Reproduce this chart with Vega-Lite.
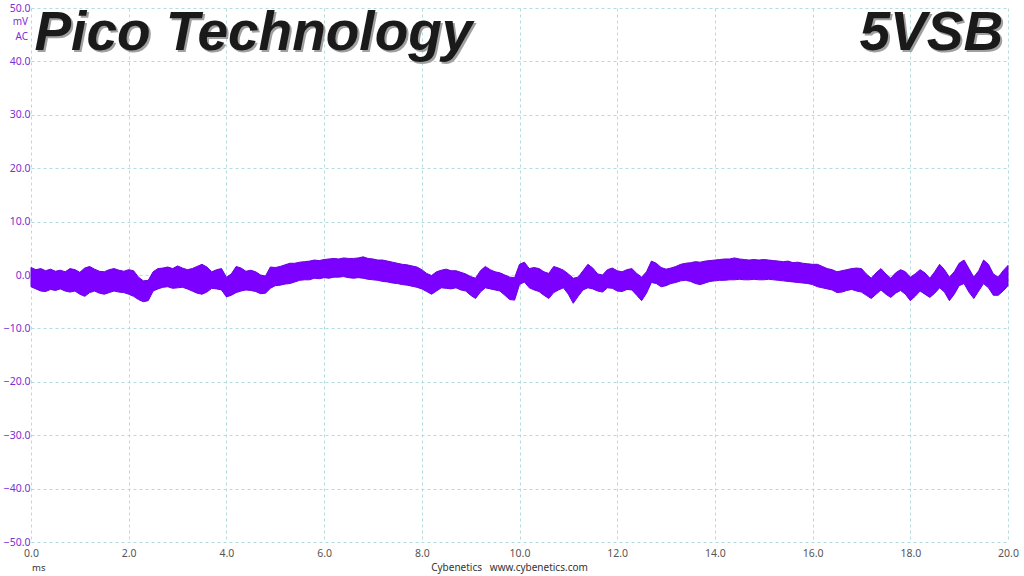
{
  "$schema": "https://vega.github.io/schema/vega-lite/v6.json",
  "width": 977,
  "height": 534,
  "autosize": {"type": "none"},
  "padding": {"left": 31, "top": 8, "right": 16, "bottom": 34},
  "background": "white",
  "config": {
    "view": {"stroke": null},
    "font": "Noto Sans"
  },
  "datasets": {
    "one": [{"k": 1}],
    "sig": [
      {"t":0.0,"hi":1.4,"lo":-2.2},{"t":0.1,"hi":1.0,"lo":-2.6},{"t":0.2,"hi":1.2,"lo":-3.0},{"t":0.3,"hi":0.8,"lo":-3.1},{"t":0.4,"hi":1.1,"lo":-2.7},
      {"t":0.5,"hi":0.7,"lo":-2.9},{"t":0.6,"hi":0.9,"lo":-2.6},{"t":0.7,"hi":0.6,"lo":-3.0},{"t":0.8,"hi":1.2,"lo":-3.2},{"t":0.9,"hi":1.0,"lo":-3.0},
      {"t":1.0,"hi":0.5,"lo":-3.6},{"t":1.1,"hi":1.3,"lo":-4.0},{"t":1.2,"hi":1.6,"lo":-3.3},{"t":1.3,"hi":1.1,"lo":-3.0},{"t":1.4,"hi":0.7,"lo":-3.4},
      {"t":1.5,"hi":0.6,"lo":-3.6},{"t":1.6,"hi":1.0,"lo":-3.3},{"t":1.7,"hi":1.2,"lo":-3.0},{"t":1.8,"hi":0.9,"lo":-3.2},{"t":1.9,"hi":0.7,"lo":-3.3},
      {"t":2.0,"hi":1.0,"lo":-3.6},{"t":2.1,"hi":0.8,"lo":-4.0},{"t":2.2,"hi":-0.4,"lo":-4.6},{"t":2.3,"hi":-1.1,"lo":-5.0},{"t":2.4,"hi":-1.0,"lo":-4.8},
      {"t":2.5,"hi":0.6,"lo":-3.0},{"t":2.6,"hi":1.2,"lo":-2.6},{"t":2.7,"hi":1.3,"lo":-2.3},{"t":2.8,"hi":1.5,"lo":-2.2},{"t":2.9,"hi":1.2,"lo":-2.5},
      {"t":3.0,"hi":1.7,"lo":-2.4},{"t":3.1,"hi":1.3,"lo":-2.3},{"t":3.2,"hi":1.0,"lo":-2.6},{"t":3.3,"hi":1.2,"lo":-3.0},{"t":3.4,"hi":1.6,"lo":-3.4},
      {"t":3.5,"hi":2.0,"lo":-3.6},{"t":3.6,"hi":1.5,"lo":-3.2},{"t":3.7,"hi":0.6,"lo":-2.5},{"t":3.8,"hi":1.0,"lo":-2.6},{"t":3.9,"hi":1.2,"lo":-2.8},
      {"t":4.0,"hi":-0.4,"lo":-4.1},{"t":4.1,"hi":0.2,"lo":-3.8},{"t":4.2,"hi":1.6,"lo":-3.3},{"t":4.3,"hi":1.3,"lo":-3.0},{"t":4.4,"hi":0.7,"lo":-2.8},
      {"t":4.5,"hi":0.9,"lo":-2.9},{"t":4.6,"hi":0.6,"lo":-3.1},{"t":4.7,"hi":0.0,"lo":-3.5},{"t":4.8,"hi":-0.2,"lo":-3.4},{"t":4.9,"hi":1.5,"lo":-2.5},
      {"t":5.0,"hi":1.4,"lo":-2.0},{"t":5.1,"hi":1.6,"lo":-1.9},{"t":5.2,"hi":1.9,"lo":-1.7},{"t":5.3,"hi":2.2,"lo":-1.6},{"t":5.4,"hi":2.2,"lo":-1.3},
      {"t":5.5,"hi":2.4,"lo":-1.0},{"t":5.6,"hi":2.5,"lo":-0.9},{"t":5.7,"hi":2.6,"lo":-0.9},{"t":5.8,"hi":2.8,"lo":-0.6},{"t":5.9,"hi":2.7,"lo":-0.7},
      {"t":6.0,"hi":2.9,"lo":-0.5},{"t":6.1,"hi":3.0,"lo":-0.6},{"t":6.2,"hi":3.1,"lo":-0.4},{"t":6.3,"hi":3.0,"lo":-0.4},{"t":6.4,"hi":3.2,"lo":-0.3},
      {"t":6.5,"hi":3.1,"lo":-0.5},{"t":6.6,"hi":3.1,"lo":-0.6},{"t":6.7,"hi":3.2,"lo":-0.5},{"t":6.8,"hi":3.4,"lo":-0.6},{"t":6.9,"hi":3.1,"lo":-0.8},
      {"t":7.0,"hi":3.0,"lo":-0.9},{"t":7.1,"hi":2.8,"lo":-1.0},{"t":7.2,"hi":2.8,"lo":-1.2},{"t":7.3,"hi":2.6,"lo":-1.3},{"t":7.4,"hi":2.4,"lo":-1.5},
      {"t":7.5,"hi":2.2,"lo":-1.6},{"t":7.6,"hi":2.0,"lo":-1.8},{"t":7.7,"hi":1.9,"lo":-1.9},{"t":7.8,"hi":1.7,"lo":-2.1},{"t":7.9,"hi":1.5,"lo":-2.3},
      {"t":8.0,"hi":1.0,"lo":-2.6},{"t":8.1,"hi":0.3,"lo":-3.1},{"t":8.2,"hi":-0.1,"lo":-3.6},{"t":8.3,"hi":0.6,"lo":-3.0},{"t":8.4,"hi":0.9,"lo":-2.4},
      {"t":8.5,"hi":1.1,"lo":-2.5},{"t":8.6,"hi":0.8,"lo":-2.6},{"t":8.7,"hi":0.8,"lo":-2.4},{"t":8.8,"hi":0.5,"lo":-2.8},{"t":8.9,"hi":0.2,"lo":-3.0},
      {"t":9.0,"hi":-0.3,"lo":-3.8},{"t":9.1,"hi":-0.6,"lo":-4.4},{"t":9.2,"hi":0.8,"lo":-3.2},{"t":9.3,"hi":1.6,"lo":-2.4},{"t":9.4,"hi":1.0,"lo":-2.6},
      {"t":9.5,"hi":0.6,"lo":-2.8},{"t":9.6,"hi":0.4,"lo":-3.0},{"t":9.7,"hi":0.0,"lo":-3.8},{"t":9.8,"hi":-0.4,"lo":-4.6},{"t":9.9,"hi":-0.5,"lo":-4.7},
      {"t":10.0,"hi":2.0,"lo":-1.8},{"t":10.1,"hi":2.4,"lo":-1.3},{"t":10.2,"hi":1.2,"lo":-2.4},{"t":10.3,"hi":1.4,"lo":-2.8},{"t":10.4,"hi":1.2,"lo":-3.1},
      {"t":10.5,"hi":0.6,"lo":-3.8},{"t":10.6,"hi":0.3,"lo":-4.4},{"t":10.7,"hi":1.6,"lo":-3.3},{"t":10.8,"hi":1.3,"lo":-2.8},{"t":10.9,"hi":0.9,"lo":-2.4},
      {"t":11.0,"hi":0.2,"lo":-3.6},{"t":11.1,"hi":-0.6,"lo":-5.3},{"t":11.2,"hi":-0.4,"lo":-4.0},{"t":11.3,"hi":0.8,"lo":-2.8},{"t":11.4,"hi":2.0,"lo":-2.4},
      {"t":11.5,"hi":1.3,"lo":-2.6},{"t":11.6,"hi":0.2,"lo":-3.0},{"t":11.7,"hi":0.0,"lo":-3.2},{"t":11.8,"hi":1.0,"lo":-2.4},{"t":11.9,"hi":1.3,"lo":-2.5},
      {"t":12.0,"hi":0.8,"lo":-3.0},{"t":12.1,"hi":0.6,"lo":-3.1},{"t":12.2,"hi":1.0,"lo":-2.7},{"t":12.3,"hi":1.2,"lo":-2.8},{"t":12.4,"hi":0.3,"lo":-3.8},
      {"t":12.5,"hi":-0.4,"lo":-4.8},{"t":12.6,"hi":0.6,"lo":-3.4},{"t":12.7,"hi":2.6,"lo":-1.4},{"t":12.8,"hi":2.2,"lo":-1.6},{"t":12.9,"hi":1.4,"lo":-2.2},
      {"t":13.0,"hi":1.1,"lo":-2.0},{"t":13.1,"hi":1.3,"lo":-1.6},{"t":13.2,"hi":1.6,"lo":-1.4},{"t":13.3,"hi":2.0,"lo":-1.1},{"t":13.4,"hi":2.2,"lo":-1.0},
      {"t":13.5,"hi":2.3,"lo":-1.2},{"t":13.6,"hi":2.5,"lo":-1.6},{"t":13.7,"hi":2.4,"lo":-1.8},{"t":13.8,"hi":2.6,"lo":-1.5},{"t":13.9,"hi":2.7,"lo":-1.2},
      {"t":14.0,"hi":2.8,"lo":-1.1},{"t":14.1,"hi":2.9,"lo":-1.0},{"t":14.2,"hi":3.0,"lo":-1.0},{"t":14.3,"hi":3.0,"lo":-0.9},{"t":14.4,"hi":3.2,"lo":-0.9},
      {"t":14.5,"hi":3.0,"lo":-0.8},{"t":14.6,"hi":2.9,"lo":-0.9},{"t":14.7,"hi":2.8,"lo":-0.9},{"t":14.8,"hi":2.9,"lo":-0.8},{"t":14.9,"hi":2.8,"lo":-0.9},
      {"t":15.0,"hi":2.9,"lo":-0.9},{"t":15.1,"hi":2.8,"lo":-0.8},{"t":15.2,"hi":2.7,"lo":-0.9},{"t":15.3,"hi":2.6,"lo":-1.0},{"t":15.4,"hi":2.5,"lo":-1.1},
      {"t":15.5,"hi":2.6,"lo":-1.2},{"t":15.6,"hi":2.3,"lo":-1.3},{"t":15.7,"hi":2.4,"lo":-1.4},{"t":15.8,"hi":2.2,"lo":-1.5},{"t":15.9,"hi":2.1,"lo":-1.6},
      {"t":16.0,"hi":2.0,"lo":-1.8},{"t":16.1,"hi":2.0,"lo":-2.2},{"t":16.2,"hi":1.6,"lo":-2.4},{"t":16.3,"hi":1.2,"lo":-2.6},{"t":16.4,"hi":1.0,"lo":-2.8},
      {"t":16.5,"hi":0.6,"lo":-3.3},{"t":16.6,"hi":0.8,"lo":-3.2},{"t":16.7,"hi":1.0,"lo":-2.9},{"t":16.8,"hi":1.2,"lo":-2.7},{"t":16.9,"hi":1.3,"lo":-3.0},
      {"t":17.0,"hi":1.2,"lo":-3.2},{"t":17.1,"hi":0.2,"lo":-3.8},{"t":17.2,"hi":-0.6,"lo":-4.4},{"t":17.3,"hi":0.4,"lo":-3.6},{"t":17.4,"hi":1.2,"lo":-2.8},
      {"t":17.5,"hi":0.2,"lo":-3.6},{"t":17.6,"hi":-0.6,"lo":-4.2},{"t":17.7,"hi":0.4,"lo":-3.4},{"t":17.8,"hi":1.0,"lo":-2.9},{"t":17.9,"hi":0.6,"lo":-3.6},
      {"t":18.0,"hi":-0.4,"lo":-4.8},{"t":18.1,"hi":0.2,"lo":-4.0},{"t":18.2,"hi":1.0,"lo":-3.0},{"t":18.3,"hi":0.4,"lo":-3.6},{"t":18.4,"hi":-0.6,"lo":-4.2},
      {"t":18.5,"hi":0.6,"lo":-3.4},{"t":18.6,"hi":2.0,"lo":-2.4},{"t":18.7,"hi":1.0,"lo":-3.2},{"t":18.8,"hi":-0.4,"lo":-4.8},{"t":18.9,"hi":0.6,"lo":-3.6},
      {"t":19.0,"hi":2.2,"lo":-2.0},{"t":19.1,"hi":2.8,"lo":-1.6},{"t":19.2,"hi":1.2,"lo":-3.2},{"t":19.3,"hi":-0.4,"lo":-4.4},{"t":19.4,"hi":0.8,"lo":-3.0},
      {"t":19.5,"hi":2.8,"lo":-1.6},{"t":19.6,"hi":2.0,"lo":-2.4},{"t":19.7,"hi":0.2,"lo":-3.8},{"t":19.8,"hi":-0.4,"lo":-3.8},{"t":19.9,"hi":0.8,"lo":-3.0},
      {"t":20.0,"hi":1.8,"lo":-2.0}
    ]
  },
  "layer": [
    {
      "data": {"name": "sig"},
      "mark": {"type": "area", "color": "#7b00ff", "stroke": "#6a00e0", "strokeWidth": 1, "opacity": 1},
      "encoding": {
        "x": {
          "field": "t", "type": "quantitative",
          "scale": {"domain": [0, 20], "nice": false, "zero": false},
          "axis": {
            "values": [0,2,4,6,8,10,12,14,16,18,20],
            "format": ".1f",
            "title": "Cybenetics\u00a0\u00a0\u00a0www.cybenetics.com",
            "titleFontSize": 10, "titleFontWeight": "normal", "titleColor": "#333333",
            "titlePadding": 4, "titleFont": "Noto Sans", "titleX": 478,
            "labelFontSize": 10.5, "labelColor": "#555555", "labelPadding": 6,
            "labelFlush": false,
            "ticks": false, "domain": false,
            "grid": true, "gridColor": "#b5dcdc", "gridDash": [3, 3], "gridWidth": 1
          }
        },
        "y": {
          "field": "hi", "type": "quantitative",
          "scale": {"domain": [-50, 50], "nice": false, "zero": false},
          "axis": {
            "values": [-50,-40,-30,-20,-10,0,10,20,30,40,50],
            "format": ".1f",
            "title": null,
            "labelFontSize": 10.5, "labelColor": "#7a2ed6", "labelPadding": 1,
            "labelFlush": false,
            "ticks": false, "domain": false,
            "grid": true, "gridColor": "#b5dcdc", "gridDash": [3, 3], "gridWidth": 1
          }
        },
        "y2": {"field": "lo"}
      }
    },
    {
      "data": {"name": "one"},
      "mark": {"type": "text", "text": "mV", "align": "right", "baseline": "middle", "dx": -3, "fontSize": 10, "color": "#7a2ed6", "font": "Noto Sans"},
      "encoding": {
        "x": {"datum": 0, "type": "quantitative"},
        "y": {"datum": 47.4, "type": "quantitative"}
      }
    },
    {
      "data": {"name": "one"},
      "mark": {"type": "text", "text": "AC", "align": "right", "baseline": "middle", "dx": -3, "fontSize": 10, "color": "#7a2ed6", "font": "Noto Sans"},
      "encoding": {
        "x": {"datum": 0, "type": "quantitative"},
        "y": {"datum": 44.6, "type": "quantitative"}
      }
    },
    {
      "data": {"name": "one"},
      "mark": {"type": "text", "text": "ms", "align": "left", "baseline": "middle", "dx": 1, "dy": 26, "fontSize": 9.5, "color": "#333333", "font": "Noto Sans"},
      "encoding": {
        "x": {"datum": 0, "type": "quantitative"},
        "y": {"datum": -50, "type": "quantitative"}
      }
    },
    {
      "data": {"name": "one"},
      "mark": {"type": "text", "text": "Pico Technology", "align": "left", "baseline": "alphabetic", "dx": 2, "dy": 2, "fontSize": 55, "fontStyle": "italic", "fontWeight": "bold", "font": "Liberation Sans", "color": "#a0a0a0"},
      "encoding": {
        "x": {"datum": 0.07, "type": "quantitative"},
        "y": {"datum": 42.1, "type": "quantitative"}
      }
    },
    {
      "data": {"name": "one"},
      "mark": {"type": "text", "text": "Pico Technology", "align": "left", "baseline": "alphabetic", "fontSize": 55, "fontStyle": "italic", "fontWeight": "bold", "font": "Liberation Sans", "color": "#1a1a1a"},
      "encoding": {
        "x": {"datum": 0.07, "type": "quantitative"},
        "y": {"datum": 42.1, "type": "quantitative"}
      }
    },
    {
      "data": {"name": "one"},
      "mark": {"type": "text", "text": "5VSB", "align": "right", "baseline": "alphabetic", "dx": 2, "dy": 2, "fontSize": 55, "fontStyle": "italic", "fontWeight": "bold", "font": "Liberation Sans", "color": "#a0a0a0"},
      "encoding": {
        "x": {"datum": 19.9, "type": "quantitative"},
        "y": {"datum": 42.1, "type": "quantitative"}
      }
    },
    {
      "data": {"name": "one"},
      "mark": {"type": "text", "text": "5VSB", "align": "right", "baseline": "alphabetic", "fontSize": 55, "fontStyle": "italic", "fontWeight": "bold", "font": "Liberation Sans", "color": "#1a1a1a"},
      "encoding": {
        "x": {"datum": 19.9, "type": "quantitative"},
        "y": {"datum": 42.1, "type": "quantitative"}
      }
    }
  ]
}
